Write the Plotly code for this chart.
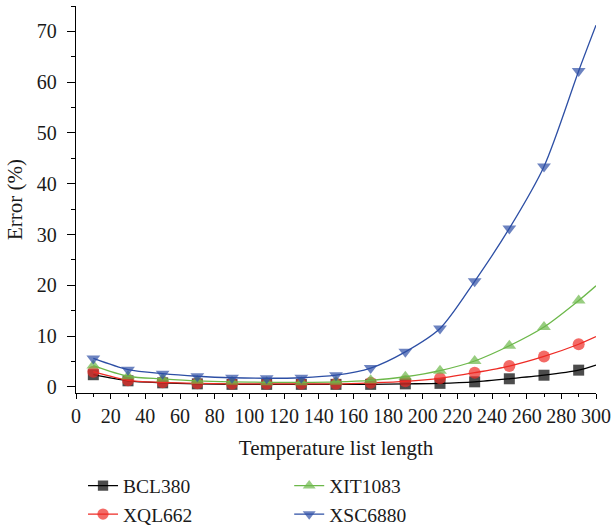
import plotly.graph_objects as go

x_vals = [10, 30, 50, 70, 90, 110, 130, 150, 170, 190, 210, 230, 250, 270, 290, 300]
bcl380 = [2.4, 1.2, 0.8, 0.6, 0.5, 0.5, 0.5, 0.5, 0.5, 0.6, 0.7, 1.0, 1.6, 2.3, 3.3, 4.3]
xql662 = [3.0, 1.3, 0.9, 0.7, 0.6, 0.6, 0.6, 0.6, 0.8, 1.1, 1.7, 2.8, 4.1, 6.0, 8.4, 9.9]
xit1083 = [4.2, 2.1, 1.6, 1.2, 1.0, 0.9, 0.9, 1.0, 1.3, 2.0, 3.2, 5.1, 8.1, 11.8, 17.0, 19.9]
xsc6880 = [5.6, 3.4, 2.6, 2.1, 1.8, 1.7, 1.8, 2.3, 3.7, 6.9, 11.5, 20.8, 31.2, 43.4, 62.2, 71.2]

series = [
    ("BCL380", bcl380, "#000000", "square", "legend", 11),
    ("XQL662", xql662, "#ee2b25", "circle", "legend", 12),
    ("XIT1083", xit1083, "#6cb84a", "triangle-up", "legend2", 12),
    ("XSC6880", xsc6880, "#2d4fa5", "triangle-down", "legend2", 12),
]

fig = go.Figure()
for name, ys, color, sym, lg, ms in series:
    sizes = [ms] * (len(x_vals) - 1) + [0]
    fig.add_trace(go.Scatter(
        x=x_vals, y=ys, name=name, mode="lines+markers",
        line=dict(color=color, width=1.3, shape="spline", smoothing=0.8),
        marker=dict(color=color, symbol=sym, size=sizes, line=dict(width=0)),
        legend=lg,
    ))

font_family = "Liberation Serif"
fig.update_layout(
    width=612, height=529,
    margin=dict(l=76, r=16, t=6, b=136, autoexpand=False),
    paper_bgcolor="white", plot_bgcolor="white",
    font=dict(family=font_family, size=20, color="#1a1a1a"),
    legend=dict(x=0.0135, y=-0.19, xanchor="left", yanchor="top",
                font=dict(size=19.5, family=font_family), tracegroupgap=0,
                bgcolor="rgba(0,0,0,0)"),
    legend2=dict(x=0.41, y=-0.19, xanchor="left", yanchor="top",
                 font=dict(size=19.5, family=font_family), tracegroupgap=0,
                 bgcolor="rgba(0,0,0,0)"),
)
fig.update_xaxes(
    range=[0, 300], dtick=20, tick0=0, showgrid=False, zeroline=False,
    showline=True, linecolor="#000000", linewidth=1.3,
    ticks="outside", ticklen=5, tickcolor="#000000",
    minor=dict(dtick=10, ticks="outside", ticklen=3, tickcolor="#000000", showgrid=False),
    title=dict(text="Temperature list length", font=dict(size=21, family=font_family), standoff=14),
    tickfont=dict(size=20, family=font_family), ticklabelstandoff=0,
)
fig.update_yaxes(
    range=[-1.2, 75], dtick=10, tick0=0, showgrid=False, zeroline=False,
    showline=True, linecolor="#000000", linewidth=1.3,
    ticks="outside", ticklen=8, tickcolor="#000000",
    minor=dict(dtick=5, ticks="outside", ticklen=4, tickcolor="#000000", showgrid=False),
    title=dict(text="Error (%)", font=dict(size=21, family=font_family), standoff=8),
    tickfont=dict(size=20, family=font_family), ticklabelstandoff=6,
)

fig.write_html("out.html")
